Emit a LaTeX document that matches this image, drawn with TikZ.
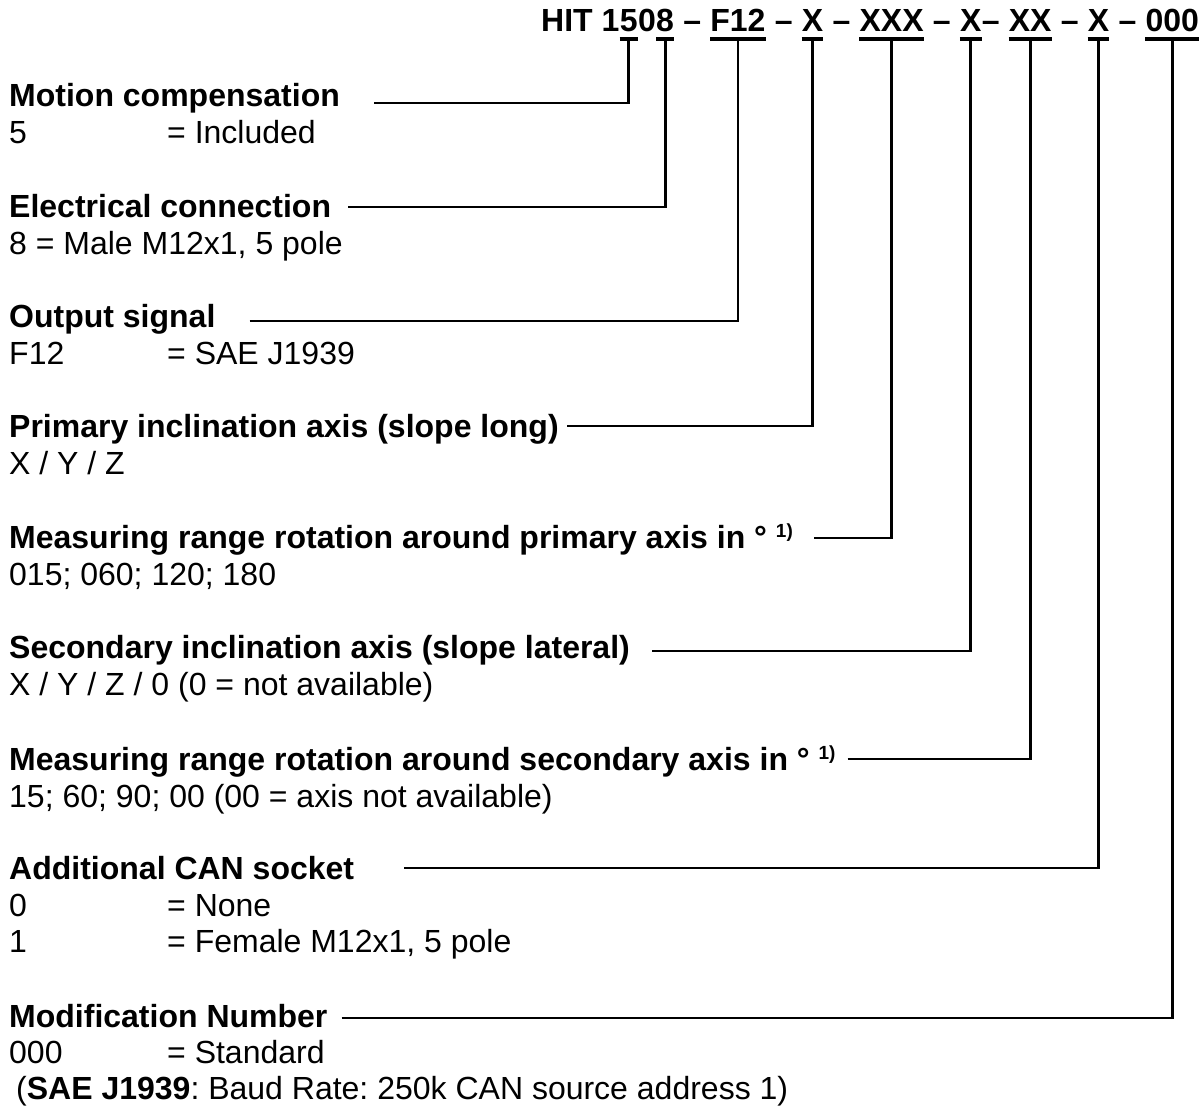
\documentclass[tikz,border=0pt]{standalone}
\usepackage{fontspec}
\setmainfont{Liberation Sans}
\usetikzlibrary{positioning}
\frenchspacing

\newcommand\hdfont{\fontsize{32bp}{36bp}\selectfont\bfseries}
\newcommand\vlfont{\fontsize{32bp}{36bp}\selectfont}
\newcommand\fnref{\raisebox{11bp}{\fontsize{19bp}{20bp}\selectfont 1)}}
\newcommand\dsh{\mbox{}~–~\mbox{}}

\tikzset{
  code/.style={inner sep=0pt, anchor=base west, font=\hdfont},
  head/.style={inner sep=0pt, anchor=base west, font=\hdfont},
  val/.style={inner sep=0pt, anchor=base west, font=\vlfont},
  lead/.style={line width=2.8bp},
  uline/.style={line width=3.6bp}
}

\begin{document}
\begin{tikzpicture}[x=1bp, y=1bp]

\useasboundingbox (0,0) rectangle (1203,-1106);

% Type code, built piece by piece
\node[code] (t0) at (541,-31) {HIT 1};
\node[code] (d5) at (t0.base east) {5};
\node[code] (d0) at (d5.base east) {0};
\node[code] (d8) at (d0.base east) {8};
\node[code] (s1) at (d8.base east) {\dsh};
\node[code] (f12) at (s1.base east) {F12};
\node[code] (s2) at (f12.base east) {\dsh};
\node[code] (x1) at (s2.base east) {X};
\node[code] (s3) at (x1.base east) {\dsh};
\node[code] (x3) at (s3.base east) {XXX};
\node[code] (s4) at (x3.base east) {\dsh};
\node[code] (x4) at (s4.base east) {X};
\node[code] (s5) at (x4.base east) {–~\mbox{}};
\node[code] (x5) at (s5.base east) {XX};
\node[code] (s6) at (x5.base east) {\dsh};
\node[code] (x6) at (s6.base east) {X};
\node[code] (s7) at (x6.base east) {\dsh};
\node[code] (n0) at (s7.base east) {000};

% Underlines of the coded positions
\foreach \p in {d5, d8, f12, x1, x3, x4, x5, x6, n0} {
    \draw[uline] ([yshift=-8bp]\p.base west) -- ([yshift=-8bp]\p.base east);
}

% Headings and values
\node[head] (motion) at (9,-106) {Motion compensation};
\node[val] (vmotion) at (9,-143) {\makebox[158bp][l]{5}= Included};

\node[head] (elec) at (9,-217) {Electrical connection};
\node[val] (velec) at (9,-254) {8 = Male M12x1, 5 pole};

\node[head] (output) at (9,-327) {Output signal};
\node[val] (voutput) at (9,-364) {\makebox[158bp][l]{F12}= SAE J1939};

\node[head] (primary) at (9,-437) {Primary inclination axis (slope long)};
\node[val] (vprimary) at (9,-474) {X / Y / Z};

\node[head] (measp) at (9,-548) {Measuring range rotation around primary axis in ° \fnref};
\node[val] (vmeasp) at (9,-585) {015; 060; 120; 180};

\node[head] (second) at (9,-658) {Secondary inclination axis (slope lateral)};
\node[val] (vsecond) at (9,-695) {X / Y / Z / 0 (0 = not available)};

\node[head] (meass) at (9,-770) {Measuring range rotation around secondary axis in ° \fnref};
\node[val] (vmeass) at (9,-807) {15; 60; 90; 00 (00 = axis not available)};

\node[head] (addcan) at (9,-879) {Additional CAN socket};
\node[val] (vaddcan) at (9,-916) {\makebox[158bp][l]{0}= None};
\node[val] (vaddcanb) at (9,-952) {\makebox[158bp][l]{1}= Female M12x1, 5 pole};

\node[head] (modif) at (9,-1027) {Modification Number};
\node[val] (vmodif) at (9,-1063) {\makebox[158bp][l]{000}= Standard};
\node[val] (vmodifb) at (16,-1099) {(\textbf{SAE J1939}: Baud Rate: 250k CAN source address 1)};

% Leaders from headings up to the code
\foreach \h/\p/\dx/\dy in {motion/d5/34/3, elec/d8/17/10, output/f12/34/6,
    primary/x1/8.5/11, measp/x3/21/10, second/x4/22/7, meass/x5/12/11,
    addcan/x6/50/11, modif/n0/14/9} {
    \draw[lead] (\h.base east) ++(\dx,\dy) -| ([yshift=-8bp]\p.base);
}

\end{tikzpicture}
\end{document}
